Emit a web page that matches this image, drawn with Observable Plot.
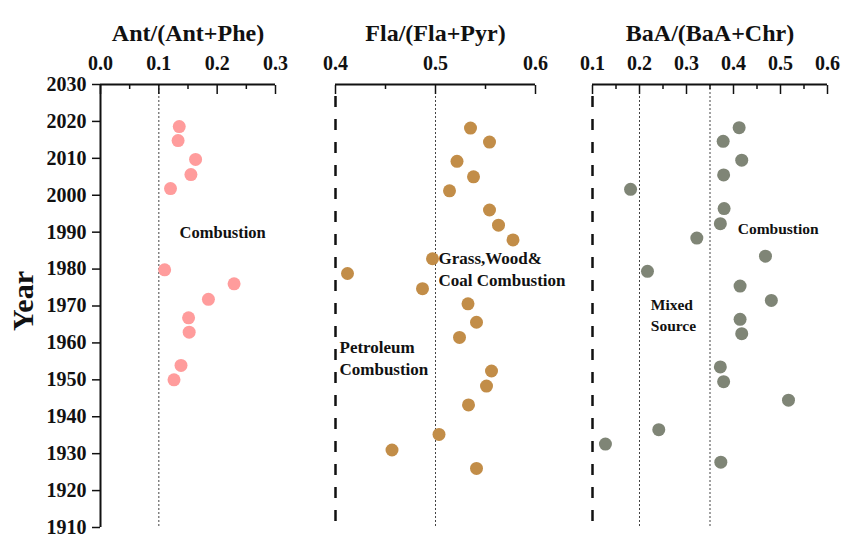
<!DOCTYPE html>
<html>
<head>
<meta charset="utf-8">
<script src="https://cdn.jsdelivr.net/npm/d3@7"></script>
<script src="https://cdn.jsdelivr.net/npm/@observablehq/plot@0.6"></script>
<style>
  html, body { margin: 0; padding: 0; background: #fff; }
  #chart { position: relative; width: 841px; height: 534px; overflow: hidden; background: #fff; }
  #chart svg { position: absolute; left: 0; top: 0; }
</style>
</head>
<body>
<div id="chart"></div>
<script>
// ---- data ----
const yearTicks = [1910, 1920, 1930, 1940, 1950, 1960, 1970, 1980, 1990, 2000, 2010, 2020, 2030];

const antYear = [2018.6, 2014.8, 2009.7, 2005.6, 2001.8, 1979.8, 1976.0, 1971.8, 1966.8, 1962.9, 1953.9, 1950.0];
const antVal  = [0.135, 0.133, 0.163, 0.155, 0.120, 0.110, 0.229, 0.185, 0.151, 0.152, 0.138, 0.126];

const flaYear = [2018.2, 2014.4, 2009.2, 2005.0, 2001.2, 1996.0, 1991.9, 1987.9, 1982.8, 1978.8,
                 1974.7, 1970.6, 1965.6, 1961.5, 1952.4, 1948.3, 1943.2, 1935.2, 1931.0, 1926.0];
const flaVal  = [0.535, 0.554, 0.5215, 0.538, 0.514, 0.554, 0.563, 0.5775, 0.497, 0.412,
                 0.487, 0.5325, 0.541, 0.524, 0.556, 0.551, 0.533, 0.5035, 0.4565, 0.541];

const baaYear = [2018.3, 2014.6, 2009.5, 2005.5, 2001.6, 1996.4, 1992.3, 1988.4, 1983.5, 1979.4,
                 1975.4, 1971.5, 1966.4, 1962.5, 1953.5, 1949.5, 1944.5, 1936.5, 1932.6, 1927.7];
const baaVal  = [0.412, 0.378, 0.4175, 0.379, 0.181, 0.380, 0.372, 0.322, 0.468, 0.217,
                 0.414, 0.4805, 0.414, 0.4175, 0.372, 0.379, 0.517, 0.241, 0.1275, 0.373];

const antTicks = [0, 0.1, 0.2, 0.3];
const antMinor = [0.05, 0.15, 0.25];
const flaTicks = [0.4, 0.5, 0.6];
const flaMinor = [0.45, 0.55];
const baaTicks = [0.1, 0.2, 0.3, 0.4, 0.5, 0.6];
const baaMinor = [0.15, 0.25, 0.35, 0.45, 0.55];

// threshold lines
const antDotted = [0.1];
const flaDashed = [0.4];
const flaDotted = [0.5];
const baaDashed = [0.1];
const baaDotted = [0.2, 0.35];

// titles
const antTitle = "Ant/(Ant+Phe)";
const flaTitle = "Fla/(Fla+Pyr)";
const baaTitle = "BaA/(BaA+Chr)";
const yTitle = "Year";

// region annotations
const antNotes = [{x: 0.1355, y: 1990.3, text: "Combustion"}];
const flaNotes = [
  {x: 0.503, y: 1980.2, text: "Grass,Wood&\nCoal Combustion"},
  {x: 0.404, y: 1956.2, text: "Petroleum\nCombustion"}
];
const baaNotes = [
  {x: 0.409, y: 1991.4, text: "Combustion"},
  {x: 0.224, y: 1967.8, text: "Mixed\nSource"}
];

const antData = antYear.map((y, i) => ({year: y, v: antVal[i]}));
const flaData = flaYear.map((y, i) => ({year: y, v: flaVal[i]}));
const baaData = baaYear.map((y, i) => ({year: y, v: baaVal[i]}));

// ---- drawing ----
const W = 841, H = 534, MT = 84, MB = 7;
const FONT = "'Liberation Serif', 'Times New Roman', serif";

function panel({left, right, domain, ticks, minor, title, data, color, dotted, dashed, notes, noteSize, noteLH, yAxis}) {
  const marks = [
    Plot.ruleX(dotted, {stroke: "#444", strokeWidth: 1, strokeDasharray: "2,2"}),
  ];
  if (dashed) {
    marks.push(Plot.ruleX(dashed, {stroke: "#111", strokeWidth: 2.5, strokeDasharray: "11,12", strokeDashoffset: 11}));
  }
  if (yAxis) {
    marks.push(Plot.ruleX([domain[0]], {stroke: "#111", strokeWidth: 2}));
    marks.push(Plot.axisY({anchor: "left", ticks: yearTicks, tickFormat: d => String(d), tickSize: 8, tickPadding: 6,
      fontSize: 20, fontWeight: "bold", strokeWidth: 1.5, label: null}));
    marks.push(Plot.text([yTitle], {frameAnchor: "left", rotate: -90, dx: -68, dy: -5, lineAnchor: "bottom",
      textAnchor: "middle", fontSize: 30, fontWeight: "bold", fill: "#111"}));
  }
  marks.push(
    Plot.ruleY([2030], {stroke: "#111", strokeWidth: 2}),
    Plot.axisX({anchor: "top", ticks: ticks, tickSize: -9, text: null, label: null, strokeWidth: 1.5}),
    Plot.axisX({anchor: "top", ticks: minor, tickSize: -4, text: null, label: null, strokeWidth: 1.5}),
    Plot.axisX({anchor: "top", ticks: ticks, tickSize: 0, tickPadding: 15, tickFormat: d3.format(".1f"),
      fontSize: 20, fontWeight: "bold", label: null}),
    Plot.text([title], {frameAnchor: "top", dy: -44, lineAnchor: "bottom", textAnchor: "middle",
      fontSize: 24, fontWeight: "bold", fill: "#111"}),
    Plot.dot(data, {x: "v", y: "year", r: 6.5, fill: color, stroke: null}),
    Plot.text(notes, {x: "x", y: "y", text: "text", textAnchor: "start", lineAnchor: "middle",
      fontSize: noteSize, fontWeight: "bold", lineHeight: noteLH, fill: "#111"})
  );
  return Plot.plot({
    width: W, height: H,
    marginLeft: left, marginRight: W - right, marginTop: MT, marginBottom: MB,
    x: {domain, axis: null},
    y: {domain: [1910, 2030], axis: null},
    style: {background: "transparent", fontFamily: FONT, color: "#111", overflow: "visible"},
    marks
  });
}

const chart = document.getElementById("chart");
chart.appendChild(panel({
  left: 100, right: 275, domain: [0, 0.3], ticks: antTicks, minor: antMinor,
  title: antTitle, data: antData, color: "#FF9C9C",
  dotted: antDotted, dashed: null, notes: antNotes, noteSize: 16.5, noteLH: 1.3, yAxis: true
}));
chart.appendChild(panel({
  left: 335, right: 535, domain: [0.4, 0.6], ticks: flaTicks, minor: flaMinor,
  title: flaTitle, data: flaData, color: "#C28D48",
  dotted: flaDotted, dashed: flaDashed, notes: flaNotes, noteSize: 17, noteLH: 1.27, yAxis: false
}));
chart.appendChild(panel({
  left: 592, right: 827, domain: [0.1, 0.6], ticks: baaTicks, minor: baaMinor,
  title: baaTitle, data: baaData, color: "#7F8576",
  dotted: baaDotted, dashed: baaDashed, notes: baaNotes, noteSize: 15.5, noteLH: 1.35, yAxis: false
}));
</script>
</body>
</html>
